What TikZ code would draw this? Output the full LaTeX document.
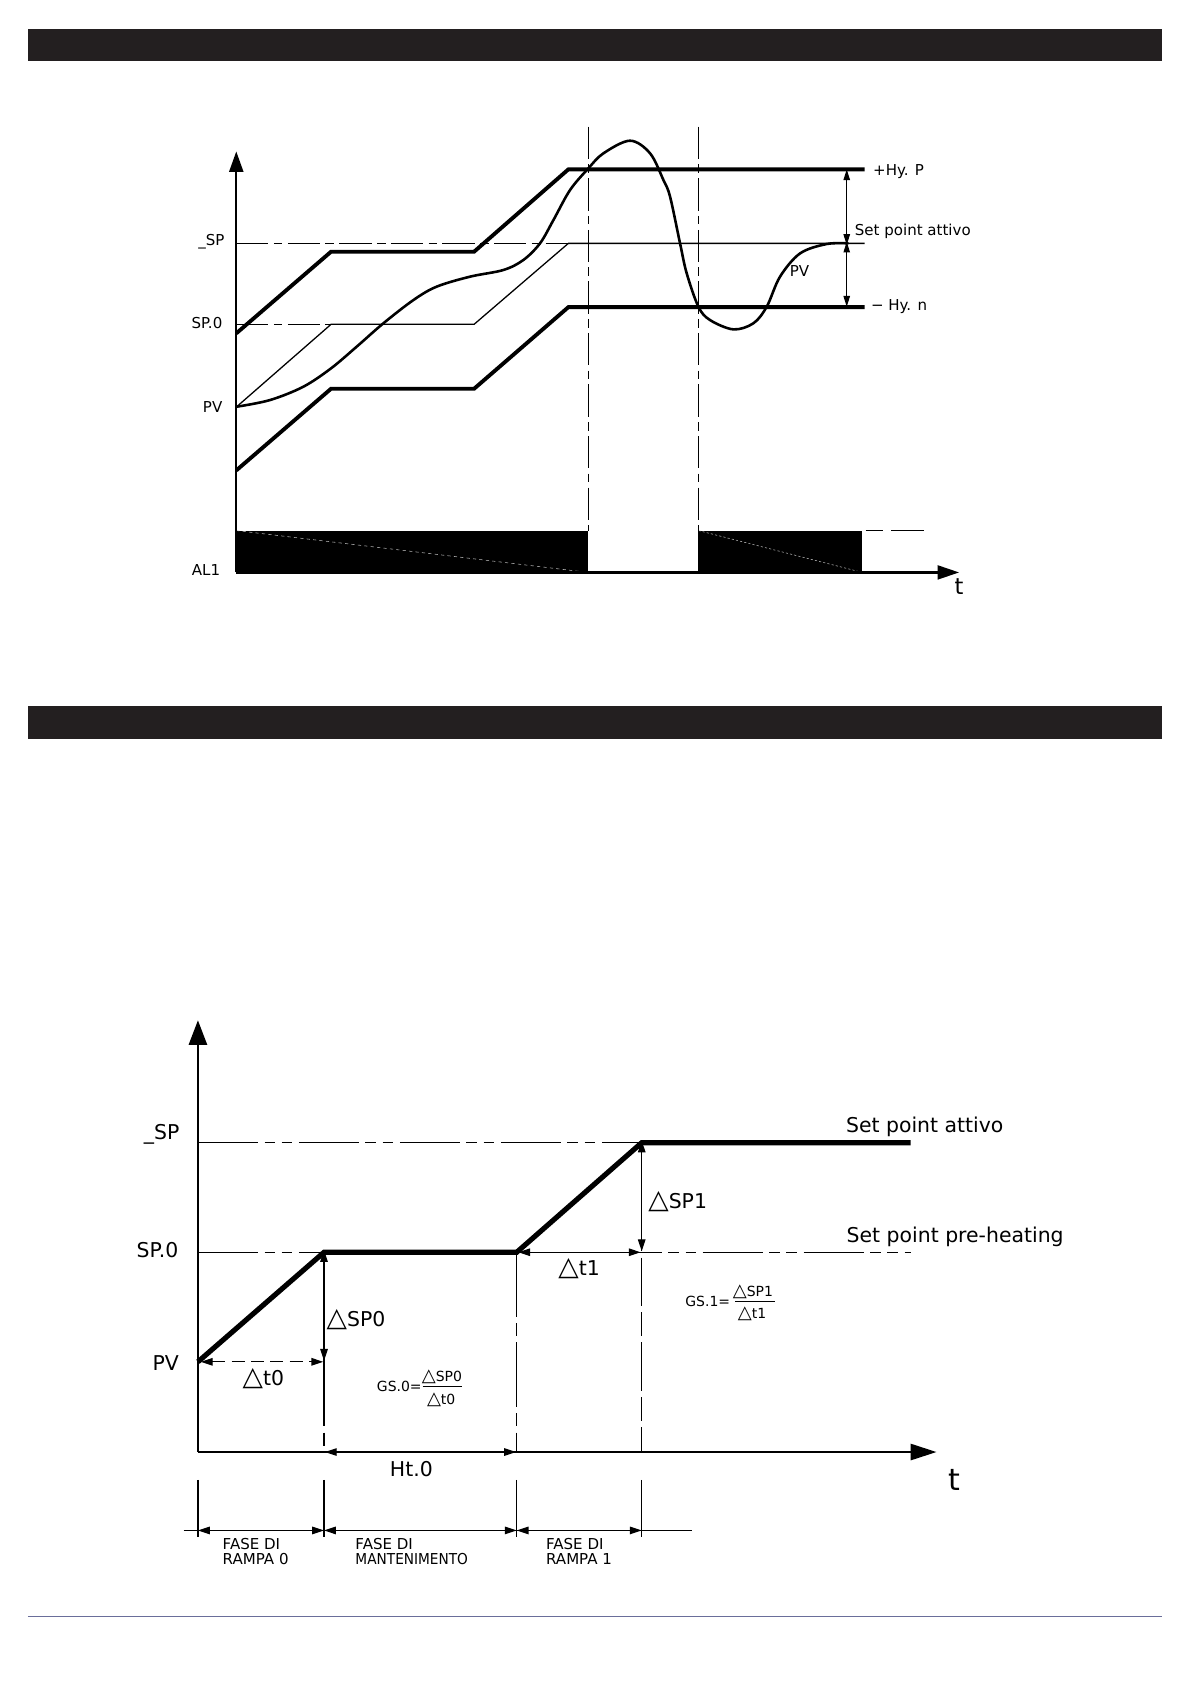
\documentclass[tikz,border=0pt]{standalone}
\usepackage{fontspec}
\setmainfont{DejaVu Sans}
\usetikzlibrary{arrows.meta}
\definecolor{barcol}{HTML}{231F20}
\definecolor{rulecol}{HTML}{6A6E9A}
\newcommand{\dtri}{\scalebox{1.3}{△}}
\begin{document}
\begin{tikzpicture}[x=1pt,y=-1pt,
  every node/.style={inner sep=0pt, outer sep=0pt},
  lblA/.style={font=\fontsize{14}{16}\selectfont},
  lblB/.style={font=\fontsize{19}{21}\selectfont},
  lblC/.style={font=\fontsize{13}{15}\selectfont},
  lblF/.style={font=\fontsize{14}{14}\selectfont, align=left},
  heavy/.style={line width=3.6pt, line join=miter},
  heavyB/.style={line width=4.8pt, line join=miter},
  thinln/.style={line width=1.2pt},
  axisln/.style={line width=2pt},
  phA/.style={line width=1.1pt, dash pattern=on 30pt off 5pt on 8pt off 5pt},
  phB/.style={line width=1.2pt, dash pattern=on 56pt off 6pt on 10pt off 6pt on 10pt off 6pt},
  phV/.style={line width=1.2pt, dash pattern=on 60pt off 6pt on 12pt off 6pt},
  phW/.style={line width=1.2pt, dash pattern=on 22pt off 6pt on 45pt off 6pt},
  dimA/.style={line width=1pt, <->, >={Triangle[length=10pt,width=6pt]}},
  dimB/.style={line width=1.1pt, <->, >={Triangle[length=11pt,width=7pt]}},
]
\fill[white] (0,0) rectangle (1109,1568);
\useasboundingbox (0,0) rectangle (1109,1568);

% header bars and footer rule
\fill[barcol] (26,27) rectangle (1082,57);
\fill[barcol] (26,657) rectangle (1082,688);
\draw[rulecol, line width=1.3pt] (26,1505) -- (1082,1505);

% ================= TOP DIAGRAM =================
\coordinate (O1) at (220,533);
\coordinate (Y1) at (220,141);
\coordinate (X1) at (893,533);
\coordinate (V1t) at (547.8,118);
\coordinate (V1b) at (547.8,494);
\coordinate (V2t) at (650.3,118);
\coordinate (V2b) at (650.3,494);

% alarm blocks
\fill[black] (220,494) rectangle (547.8,533);
\fill[black] (650.3,494) rectangle (803,533);
\draw[gray!55, line width=0.5pt, dash pattern=on 3pt off 3pt] (220,494) -- (547.8,533);
\draw[gray!55, line width=0.5pt, dash pattern=on 2pt off 2pt] (650.3,494) -- (803,533);
\draw[line width=1pt, dash pattern=on 16pt off 8pt on 30pt off 4pt] (806,494) -- (860,494);

% vertical dash-dot lines
\draw[phA] (V1t) -- (V1b);
\draw[phA] (V2t) -- (V2b);

% set point dashed references
\draw[phA] (220,226.6) -- (529.2,226.6);
\draw[phA] (220,302) -- (308.2,302);

% set point (thin)
\draw[thinln] (220.4,378.7) -- (308.2,302) -- (441.4,302) -- (529.2,226.6) -- (805,226.6);
% +Hy band
\draw[heavy] (220,310.4) -- (308.2,234.4) -- (441.4,234.4) -- (529.2,157.7) -- (805,157.7);
% -Hy band
\draw[heavy] (220,438) -- (308.2,362) -- (441.4,362) -- (529.2,286) -- (805,286);

% PV curve
\draw[line width=2.4pt, line join=round] plot[smooth, tension=0.55] coordinates {
 (220.4,378.7) (251.4,372.5) (282.4,360.1) (308.2,343) (332.1,322.8) (357,301)
 (384.9,279.4) (406.6,266.9) (437.7,257.6) (468.7,251.4) (487.3,242.1) (502.8,226.6)
 (515.3,204.9) (530.8,176.9) (547.8,156.8) (561.8,142.8) (586.6,131) (605.3,142.8)
 (617.7,167.6) (623.9,183.1) (633.2,226.6) (639.4,254.5) (650.3,285.6) (661.1,298)
 (682.9,306.7) (701.5,301) (713.9,285.6) (726.3,257.6) (745,235.9) (769.8,227.2)
 (790,226.6)};

% hysteresis dimensions
\coordinate (HyP) at (788.4,157.7);
\coordinate (HyS) at (788.4,226.6);
\coordinate (HyN) at (788.4,285.6);
\draw[dimA] (HyP) -- ([yshift=-1.5pt]HyS);
\draw[dimA] ([yshift=1.5pt]HyS) -- (HyN);

% axes
\draw[axisln, -{Triangle[length=19pt,width=13pt]}] (O1) -- (Y1);
\draw[axisln, -{Triangle[length=20pt,width=13pt]}] (O1) -- (X1);

% labels top
\node[lblA, anchor=base west] (tHyP) at (813,163) {+Hy. P};
\node[lblA, anchor=base west] (tSPA) at (796,219) {Set point attivo};
\node[lblA, anchor=base west] (tPVc) at (735.5,257.6) {PV};
\node[lblA, anchor=base west] (tHyN) at (811,288.7) {− Hy. n};
\node[lblA, anchor=base east] (tSP) at (209,229) {\_SP};
\node[lblA, anchor=base east] (tSP0) at (207,305.7) {SP.0};
\node[lblA, anchor=base east] (tPV) at (207,384) {PV};
\node[lblA, anchor=base east] (tAL) at (205,536) {AL1};
\node[font=\fontsize{21}{21}\selectfont, anchor=base] (tt1) at (893,554) {t};

% ================= BOTTOM DIAGRAM =================
\coordinate (O2) at (184.3,1352);
\coordinate (Y2) at (184.3,950);
\coordinate (X2) at (872,1352);
\coordinate (P0) at (184.3,1268);
\coordinate (P1) at (301.7,1166);
\coordinate (P2) at (481.1,1166);
\coordinate (P3) at (597.5,1064);
\coordinate (P4) at (848,1064);

% reference dashed lines
\draw[phB] (184.3,1064) -- (P3);
\draw[phB] (184.3,1166) -- (848,1166);

% vertical lines
\draw[line width=1.2pt] (P1) -- (301.7,1268);
\draw[phV] (301.7,1268) -- (301.7,1352);
\draw[phV] (P2) -- (481.1,1352);
\draw[phW] (P3) -- (597.5,1352);

% ramp profile
\draw[heavyB] (P0) -- (P1) -- (P2) -- (P3) -- (P4);

% dimension arrows
\draw[dimB] ([yshift=2pt]P1) -- (301.7,1267);
\draw[dimB] ([yshift=2pt]P3) -- (597.5,1165);
\draw[dimB, dashed, dash pattern=on 12pt off 6pt] (187,1268) -- (301,1268);
\draw[dimB] ([xshift=1.5pt]P2) -- (596.5,1166);
\draw[dimB] (302.5,1352) -- (480.5,1352);

% axes
\draw[axisln, -{Triangle[length=23pt,width=17pt]}] (O2) -- (Y2);
\draw[axisln, -{Triangle[length=24pt,width=15pt]}] (O2) -- (X2);

% phase dimension line
\coordinate (Q0) at (184.3,1425);
\coordinate (Q1) at (301.7,1425);
\coordinate (Q2) at (481.1,1425);
\coordinate (Q3) at (597.5,1425);
\draw[line width=1.2pt] (184.3,1378) -- (184.3,1431);
\draw[line width=1.2pt] (301.7,1378) -- (301.7,1431);
\draw[line width=1.2pt] (481.1,1378) -- (481.1,1431);
\draw[line width=1.2pt] (597.5,1378) -- (597.5,1431);
\draw[line width=1.1pt] (171,1425) -- (644.4,1425);
\draw[dimB] (Q0) -- (Q1);
\draw[dimB] (Q1) -- (Q2);
\draw[dimB] (Q2) -- (Q3);

% labels bottom
\node[lblB, anchor=base east] (bSP) at (167,1061) {\_SP};
\node[lblB, anchor=base east] (bSP0) at (166,1171) {SP.0};
\node[lblB, anchor=base east] (bPV) at (166.5,1276) {PV};
\node[font=\fontsize{28}{28}\selectfont, anchor=base] (tt2) at (888.5,1388) {t};
\node[lblB, anchor=base west] (bSPA) at (787.8,1054.7) {Set point attivo};
\node[lblB, anchor=base west] (bSPP) at (788.4,1157) {Set point pre-heating};
\node[lblB, anchor=base west] (bdSP1) at (603.7,1125) {\dtri SP1};
\node[lblB, anchor=base west] (bdt1) at (519.9,1188) {\dtri t1};
\node[lblB, anchor=base west] (bdSP0) at (304.2,1235.4) {\dtri SP0};
\node[lblB, anchor=base west] (bdt0) at (226,1290) {\dtri t0};
\node[lblB, anchor=base] (bHt) at (383,1375) {Ht.0};

% GS.0 fraction
\node[lblC, anchor=base east] (gs0) at (392.6,1296) {GS.0=};
\node[lblC, anchor=base] (gs0n) at (411.5,1286.6) {\dtri SP0};
\node[lblC, anchor=base] (gs0d) at (410.8,1307.4) {\dtri t0};
\draw[line width=0.9pt] (393.6,1291.3) -- (430.5,1291.3);
% GS.1 fraction
\node[lblC, anchor=base east] (gs1) at (679.8,1216.8) {GS.1=};
\node[lblC, anchor=base] (gs1n) at (701,1207) {\dtri SP1};
\node[lblC, anchor=base] (gs1d) at (700.3,1227.6) {\dtri t1};
\draw[line width=0.9pt] (684.4,1212.1) -- (721.6,1212.1);

% phase labels
\node[lblF, anchor=north west] (f0) at (207.4,1432.5) {FASE DI\\[0pt]RAMPA 0};
\node[lblF, anchor=north west] (f1) at (331,1432.5) {FASE DI\\[0pt]\scalebox{0.91}[1]{MANTENIMENTO}};
\node[lblF, anchor=north west] (f2) at (508.5,1432.5) {FASE DI\\[0pt]RAMPA 1};
\end{tikzpicture}
\end{document}
